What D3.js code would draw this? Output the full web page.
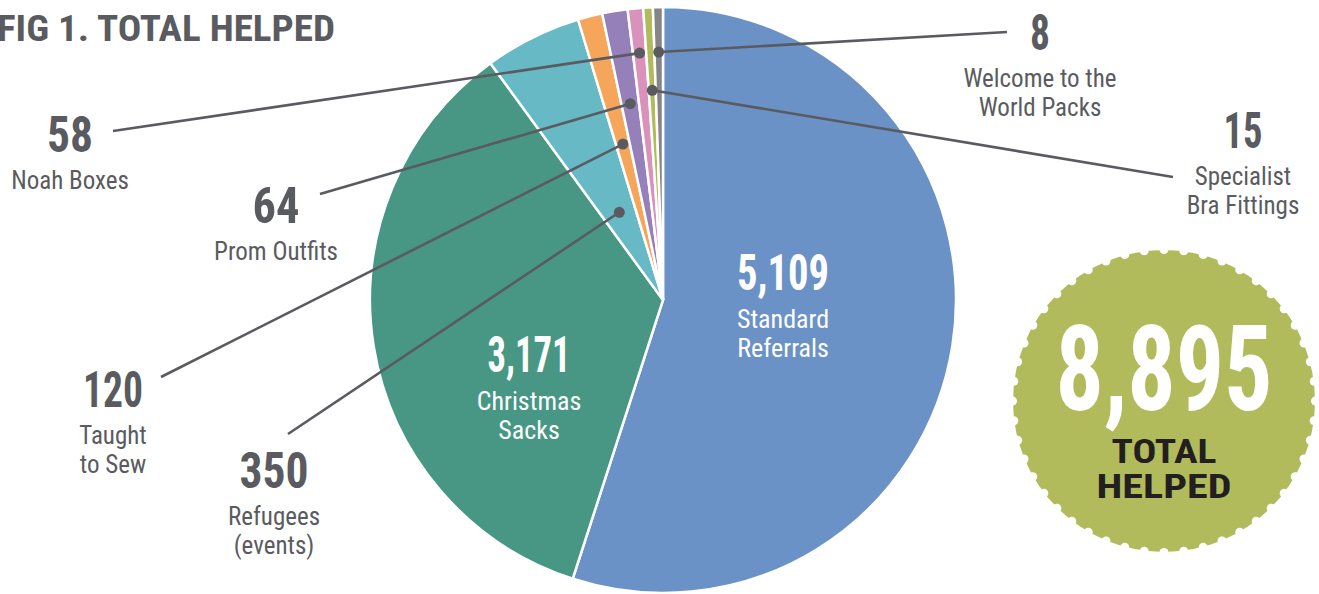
<!DOCTYPE html>
<meta charset="utf-8">
<style>
body { margin: 0; background: #fff; }
text { font-family: "Roboto Condensed", "Liberation Sans Narrow", "DejaVu Sans Condensed", sans-serif; }
.num { font-weight: 700; }
</style>
<body>
<script src="https://cdn.jsdelivr.net/npm/d3@7"></script>
<script>

// categories, clockwise from 12 o'clock
var categories = ["Standard Referrals", "Christmas Sacks", "Refugees (events)", "Taught to Sew",
                  "Prom Outfits", "Noah Boxes", "Specialist Bra Fittings", "Welcome to the World Packs"];
// numbers printed on the chart
var helped = [5109, 3171, 350, 120, 64, 58, 15, 8];
// share of the circle each slice takes in the picture (%) - small slices are drawn wider than their value
var drawnShare = [55.0, 35.0, 5.35, 1.35, 1.4, 0.85, 0.53, 0.55];
var colors = ["#6b92c6", "#479784", "#66b9c5", "#f6a65b", "#9680b9", "#da91bb", "#b1bb5b", "#858587"];
var totalLabel = "TOTAL HELPED";

var data = categories.map(function(c, i) {
  return {name: c, value: helped[i], share: drawnShare[i], color: colors[i]};
});

var W = 1319, H = 594;
var cx = 663, cy = 300, R = 293;
var grey = "#5a5b60";

var svg = d3.select("body").append("svg")
    .attr("width", W)
    .attr("height", H);

// title
svg.append("text")
    .attr("class", "num")
    .attr("x", -3).attr("y", 41)
    .attr("fill", grey)
    .attr("textLength", 338)
    .attr("lengthAdjust", "spacingAndGlyphs")
    .style("font-size", "37px")
    .text("FIG 1. " + totalLabel);

var pie = d3.pie().sort(null).value(function(d) { return d.share; });
var arc = d3.arc().innerRadius(0).outerRadius(R);
var arcs = pie(data);

var g = svg.append("g").attr("transform", "translate(" + cx + "," + cy + ")");
g.selectAll("path")
    .data(arcs)
  .enter().append("path")
    .attr("d", arc)
    .attr("fill", function(d) { return d.data.color; })
    .attr("stroke", "#fff")
    .attr("stroke-width", 2.5);

var fmt = d3.format(",");

// the numbers are set in a narrow face, squeeze them to the printed width
function bigNumber(sel, x, y, txt, w, size, fill) {
  return sel.append("text").attr("class", "num")
      .attr("x", x - w / 2).attr("y", y)
      .attr("fill", fill)
      .attr("textLength", w)
      .attr("lengthAdjust", "spacingAndGlyphs")
      .style("font-size", size + "px")
      .text(txt);
}

// labels inside the two big slices
var inside = [
  {i: 0, x: 783, y: 290, w: 92, lines: ["Standard", "Referrals"]},
  {i: 1, x: 529, y: 372, w: 83, lines: ["Christmas", "Sacks"]}
];
inside.forEach(function(l) {
  bigNumber(svg, l.x, l.y, fmt(data[l.i].value), l.w, 50, "#fff");
  l.lines.forEach(function(t, k) {
    svg.append("text")
        .attr("x", l.x).attr("y", l.y + 38 + k * 29)
        .attr("text-anchor", "middle").attr("fill", "#fff")
        .style("font-size", "26px")
        .text(t);
  });
});

// callout labels: dot radius inside the pie, line end, label centre
var callouts = [
  {i: 2, r: 98,  ex: 288,  ey: 434, lx: 274,  ly: 488, w: 69, lines: ["Refugees", "(events)"]},
  {i: 3, r: 161, ex: 161,  ey: 377, lx: 113,  ly: 407, w: 60, lines: ["Taught", "to Sew"]},
  {i: 4, r: 199, ex: 320,  ey: 194, lx: 276,  ly: 223, w: 47, lines: ["Prom Outfits"]},
  {i: 5, r: 248, ex: 113,  ey: 131, lx: 70,   ly: 152, w: 46, lines: ["Noah Boxes"]},
  {i: 6, r: 210, ex: 1173, ey: 177, lx: 1243, ly: 148, w: 39, lines: ["Specialist", "Bra Fittings"]},
  {i: 7, r: 248, ex: 1007, ey: 32,  lx: 1040, ly: 50,  w: 20, lines: ["Welcome to the", "World Packs"]}
];

callouts.forEach(function(c) {
  var a = arcs[c.i];
  var mid = (a.startAngle + a.endAngle) / 2;
  var px = cx + c.r * Math.sin(mid), py = cy - c.r * Math.cos(mid);
  svg.append("line")
      .attr("x1", px).attr("y1", py)
      .attr("x2", c.ex).attr("y2", c.ey)
      .attr("stroke", grey).attr("stroke-width", 2.6);
  svg.append("circle")
      .attr("cx", px).attr("cy", py).attr("r", 5.5)
      .attr("fill", grey);
  bigNumber(svg, c.lx, c.ly, fmt(data[c.i].value), c.w, 50, grey);
  c.lines.forEach(function(t, k) {
    svg.append("text")
        .attr("x", c.lx).attr("y", c.ly + 37 + k * 29)
        .attr("text-anchor", "middle").attr("fill", grey)
        .style("font-size", "25px")
        .text(t);
  });
});

// scalloped total badge
var bx = 1164, by = 401, bR = 151, nNotch = 48;
var badge = svg.append("g");
badge.append("circle")
    .attr("cx", bx).attr("cy", by).attr("r", bR)
    .attr("fill", "#b1bb5c");
badge.selectAll(".notch")
    .data(d3.range(nNotch))
  .enter().append("circle")
    .attr("class", "notch")
    .attr("cx", function(k) { return bx + (bR + 0.5) * Math.cos(k / nNotch * 2 * Math.PI); })
    .attr("cy", function(k) { return by + (bR + 0.5) * Math.sin(k / nNotch * 2 * Math.PI); })
    .attr("r", 4.5)
    .attr("fill", "#fff");

var total = d3.sum(helped);
bigNumber(badge, bx, 410, fmt(total), 217, 118, "#fff");
var wordW = [105, 135];
totalLabel.split(" ").forEach(function(t, k) {
  badge.append("text").attr("class", "num")
      .attr("x", bx - wordW[k] / 2).attr("y", 463 + k * 35)
      .attr("fill", "#231f20")
      .attr("textLength", wordW[k])
      .attr("lengthAdjust", "spacingAndGlyphs")
      .style("font-size", "34px")
      .text(t);
});

</script>
</body>
